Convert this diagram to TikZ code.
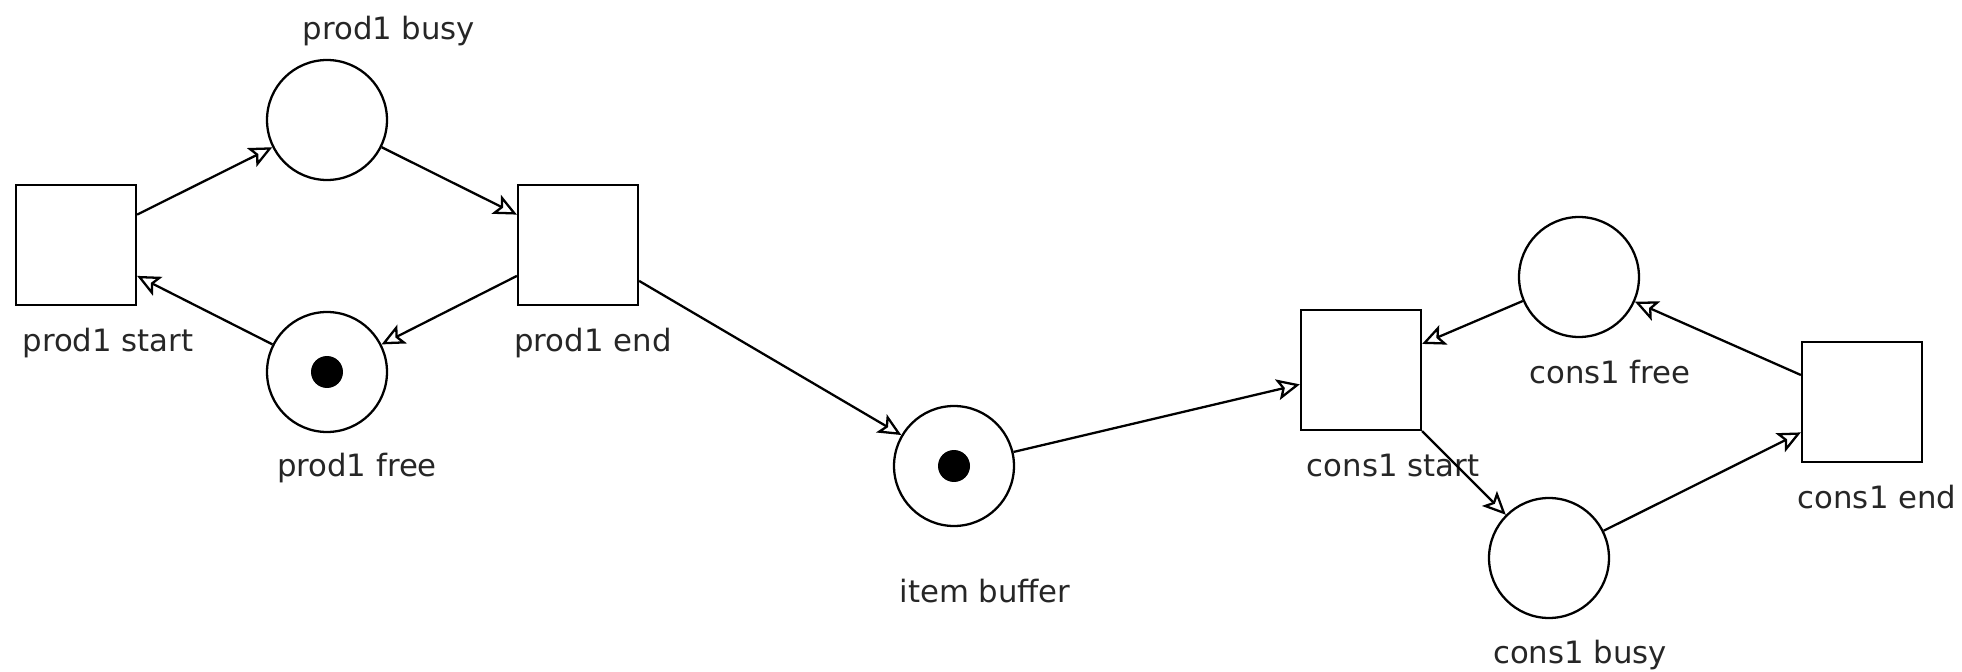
\documentclass[tikz,border=0pt]{standalone}
\usepackage{fontspec}
\setmainfont{DejaVu Sans}
\usepackage{tikz}
\usetikzlibrary{shapes.geometric, arrows, arrows.meta, positioning}
\tikzstyle{place} = [circle,
minimum size=2.4cm,
inner sep=0pt,
draw=black, line width=1.3pt, fill=white]
\tikzstyle{transition} = [rectangle,
minimum width=2.4cm,
minimum height=2.4cm,
inner sep=0pt,
draw=black, line width=1.3pt, fill=white]
\tikzstyle{token} = [circle, minimum size=0.64cm, inner sep=0pt, fill=black]
\tikzstyle{tag} = [inner sep=0pt, text height=0.75em, text depth=0.25em,
font=\fontsize{17.5pt}{20pt}\selectfont, text=black!85]
\tikzstyle{arrow} = [line width=1.3pt,-{Stealth[open,length=0.46cm,width=0.42cm,inset=0.1cm]}]

\begin{document}
\begin{tikzpicture}[x=0.02cm, y=-0.02cm]
            \useasboundingbox (0,0) rectangle (1962,672);
            % producer
            \node (pstart) [transition] at (76,245) {};
            \node (pbusy) [place] at (327,120) {};
            \node (pend) [transition] at (578,245) {};
            \node (pfree) [place] at (327,372) {};
            \node (pfreetok) [token] at (pfree) {};
            % buffer
            \node (buffer) [place] at (954,466) {};
            \node (buffertok) [token] at (buffer) {};
            % consumer
            \node (cstart) [transition] at (1361,370) {};
            \node (cfree) [place] at (1579,277) {};
            \node (cend) [transition] at (1862,402) {};
            \node (cbusy) [place] at (1549,558) {};

            \node (pbusylbl) [tag] at (389,35) {prod1 busy};
            \node (pstartlbl) [tag] at (108,347) {prod1 start};
            \node (pendlbl) [tag] at (593,347) {prod1 end};
            \node (pfreelbl) [tag] at (357,472) {prod1 free};
            \node (bufferlbl) [tag] at (985,598) {item buffer};
            \node (cstartlbl) [tag] at (1393,472) {cons1 start};
            \node (cfreelbl) [tag] at (1610,379) {cons1 free};
            \node (cendlbl) [tag] at (1877,504) {cons1 end};
            \node (cbusylbl) [tag] at (1580,659) {cons1 busy};

            \draw [arrow] (pstart) -- (pbusy);
            \draw [arrow] (pbusy) -- (pend);
            \draw [arrow] (pend) -- (pfree);
            \draw [arrow] (pfree) -- (pstart);
            \draw [arrow] (pend) -- (buffer);
            \draw [arrow] (buffer) -- (cstart);
            \draw [arrow] (cfree) -- (cstart);
            \draw [arrow] (cend) -- (cfree);
            \draw [arrow] (cstart) -- (cbusy);
            \draw [arrow] (cbusy) -- (cend);
        \end{tikzpicture}
\end{document}
